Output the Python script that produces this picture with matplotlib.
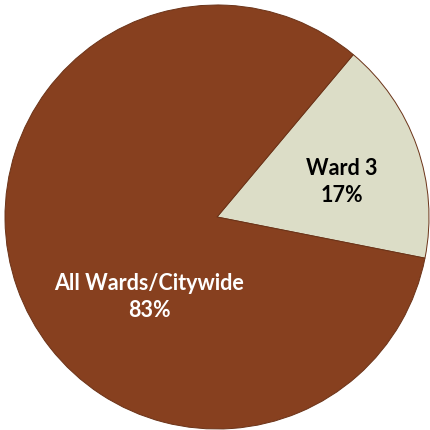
import matplotlib.pyplot as plt

labels = ["Ward 3", "All Wards/Citywide"]
shares = [17, 83]
colors = ["#DCDDC7", "#87401F"]
text_colors = ["black", "white"]

fig = plt.figure(figsize=(4.3, 4.3), dpi=100)
ax = fig.add_axes([0, 0, 1, 1])

wedges, _ = ax.pie(
    shares,
    colors=colors,
    startangle=50,
    counterclock=False,
    radius=1.0,
    wedgeprops=dict(edgecolor="#6b3318", linewidth=0.7),
)

# label centres in data units
label_pos = [(0.59, 0.165), (-0.32, -0.377)]
for lab, val, (x, y), c in zip(labels, shares, label_pos, text_colors):
    ax.text(x, y, f"{lab}\n{val}%", ha="center", va="center",
            fontsize=15.5, fontweight="bold", color=c, family="Lato",
            linespacing=1.35)

ax.set_xlim(-217 / 212, 213 / 212)
ax.set_ylim(-213 / 212, 217 / 212)
ax.set_aspect("auto")
ax.axis("off")

fig.savefig("out.png", dpi=100)
